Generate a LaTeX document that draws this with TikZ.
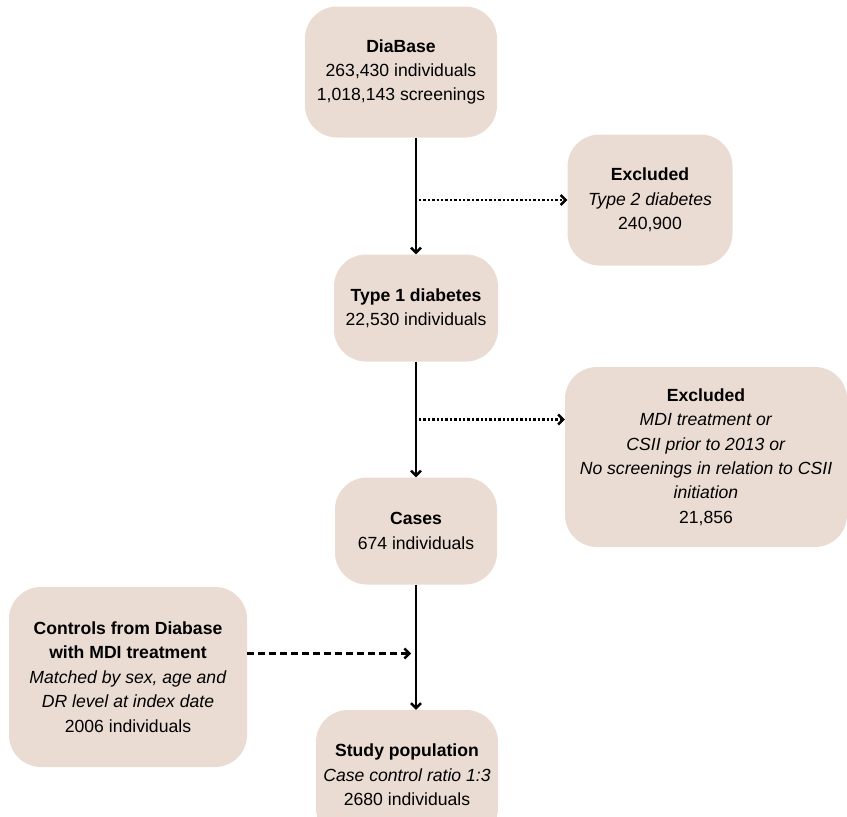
\documentclass[tikz,border=0pt]{standalone}
\usepackage{fontspec}
\setmainfont{Liberation Sans}
\usetikzlibrary{positioning, calc, arrows.meta}
\definecolor{xbeige}{HTML}{EADCD3}
\tikzset{
	box/.style={fill=xbeige, rounded corners=32pt, align=center, inner sep=0pt, font=\fontsize{17.6}{24.4}\selectfont},
	arrow/.style={line width=2.4pt, -{Straight Barb[length=5pt, width=10pt]}},
	dotarrow/.style={arrow, dotted},
	dasharrow/.style={arrow, dash pattern=on 7pt off 4pt},
}

\begin{document}
\begin{tikzpicture}[x=1pt, y=-1pt]
		\useasboundingbox (0,0) rectangle (847,817);
		% Inclusion chain
		\node[box, minimum width=192pt, minimum height=131pt] (db) at (401,72) {\textbf{DiaBase}\\263,430 individuals\\1,018,143 screenings};
		\node[box, minimum width=164pt, minimum height=107pt] (t1) at (416,308) {\textbf{Type 1 diabetes}\\22,530 individuals};
		\node[box, minimum width=162pt, minimum height=107pt] (cases) at (416,531) {\textbf{Cases}\\674 individuals};
		\node[box, minimum width=182pt, minimum height=130pt] (study) at (407,775) {\textbf{Study population}\\\textit{Case control ratio 1:3}\\2680 individuals};

		% Exclusions and controls
		\node[box, minimum width=165pt, minimum height=131pt] (ex1) at (650,200) {\textbf{Excluded}\\\textit{Type 2 diabetes}\\240,900};
		\node[box, minimum width=282pt, minimum height=180pt] (ex2) at (706,457) {\textbf{Excluded}\\\textit{MDI treatment or}\\\textit{CSII prior to 2013 or}\\\textit{No screenings in relation to CSII}\\\textit{initiation}\\21,856};
		\node[box, minimum width=238pt, minimum height=180pt] (ctrl) at (128,677) {\textbf{Controls from Diabase}\\\textbf{with MDI treatment}\\\textit{Matched by sex, age and}\\\textit{DR level at index date}\\2006 individuals};

		\draw[arrow] (db.south -| t1.north) -- (t1.north);
		\draw[arrow] (t1.south) -- (cases.north);
		\draw[arrow] (cases.south) -- (cases.south |- study.north);

		\coordinate (m2) at ($(t1.south)!0.5!(cases.north)$);
		\coordinate (m3) at ($(cases.south)!0.55!(study.north)$);
		\draw[dotarrow] ($(ex1.west -| t1.north)+(3,0)$) -- (ex1.west);
		\draw[dotarrow] ($(m2)+(3,0)$) -- (m2 -| ex2.west);
		\draw[dasharrow] (ctrl.east |- m3) -- (m3);
	\end{tikzpicture}
\end{document}
